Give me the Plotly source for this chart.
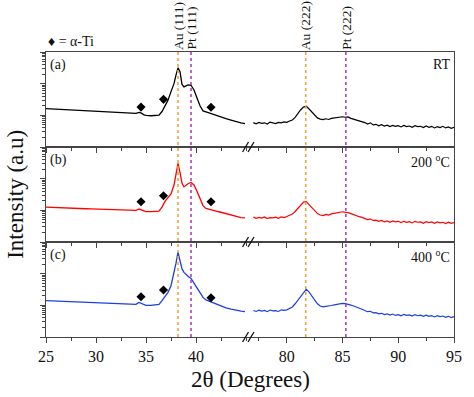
import plotly.graph_objects as go
from plotly.subplots import make_subplots

# ---------------- data ----------------
left_theta = [25.0, 25.5, 26.0, 26.5, 27.0, 27.5, 28.0, 28.5, 29.0, 29.5, 30.0, 30.5, 31.0, 31.5,
              32.0, 32.5, 33.0, 33.5, 34.0, 34.3, 34.5, 34.8, 35.0, 35.5, 36.0, 36.3, 36.6, 36.9,
              37.2, 37.5, 37.8, 38.0, 38.2, 38.4, 38.6, 38.8, 39.0, 39.2, 39.5, 39.8, 40.1, 40.4,
              40.7, 41.0, 41.3, 41.6, 42.0, 42.5, 43.0, 43.5, 44.0, 44.5, 44.9]

left_rt = [16.2, 15.9, 15.6, 15.4, 15.0, 14.8, 14.4, 14.2, 13.9, 13.6, 13.2, 13.0, 12.9, 12.6,
           12.5, 12.3, 12.1, 11.8, 11.6, 12.4, 11.9, 10.4, 9.9, 9.7, 9.8, 10.1, 13.2, 20.9,
           30.2, 56.0, 100.0, 186.0, 316.0, 240.0, 95.0, 79.0, 85.0, 91.0, 89.0, 63.0, 35.5, 20.0,
           13.8, 12.6, 12.0, 11.2, 10.0, 8.9, 7.9, 7.1, 6.3, 5.8, 5.5]

left_200 = [12.6, 12.5, 12.4, 12.2, 12.0, 11.9, 11.6, 11.4, 11.2, 11.1, 11.0, 10.9, 10.7, 10.7,
            10.5, 10.4, 10.2, 10.1, 10.0, 11.0, 10.5, 9.3, 9.1, 9.1, 9.3, 9.5, 12.6, 19.1,
            25.1, 33.1, 63.0, 151.0, 302.0, 158.0, 71.0, 55.0, 61.7, 69.2, 75.9, 63.0, 39.8, 24.0,
            14.1, 11.5, 10.7, 10.2, 9.5, 8.7, 7.9, 7.2, 6.3, 5.9, 5.75]

left_400 = [14.1, 13.9, 13.7, 13.4, 13.2, 13.0, 12.7, 12.5, 12.3, 12.1, 12.0, 11.9, 11.7, 11.6,
            11.5, 11.2, 11.0, 10.8, 10.7, 12.3, 11.7, 10.5, 10.0, 10.0, 10.2, 10.7, 14.1, 18.6,
            25.7, 41.7, 100.0, 214.0, 479.0, 282.0, 141.0, 110.0, 93.0, 83.0, 71.0, 52.5, 35.5, 25.1,
            17.8, 14.8, 13.5, 12.6, 11.0, 9.5, 8.3, 7.6, 6.9, 6.6, 6.3]

right_theta = [77.0, 77.25, 77.5, 77.75, 78.0, 78.25, 78.5, 78.75, 79.0, 79.25, 79.5, 79.75,
               80.0, 80.25, 80.5, 80.75, 81.0, 81.25, 81.5, 81.75, 82.0, 82.25, 82.5, 82.75,
               83.0, 83.25, 83.5, 83.75, 84.0, 84.25, 84.5, 84.75, 85.0, 85.25, 85.5, 85.75,
               86.0, 86.25, 86.5, 86.75, 87.0, 87.25, 87.5, 87.75, 88.0, 88.25, 88.5, 88.75,
               89.0, 89.25, 89.5, 89.75, 90.0, 90.25, 90.5, 90.75, 91.0, 91.25, 91.5, 91.75,
               92.0, 92.25, 92.5, 92.75, 93.0, 93.25, 93.5, 93.75, 94.0, 94.25, 94.5, 94.75, 95.0]

right_rt = [5.9, 5.4, 6.0, 5.6, 5.8, 5.3, 6.1, 5.7, 5.5, 6.0, 5.8, 6.2,
            6.0, 6.6, 7.1, 8.6, 11.5, 15.0, 18.2, 19.5, 15.8, 12.4, 10.0, 8.3,
            7.6, 7.3, 7.8, 7.4, 8.0, 8.3, 8.6, 8.9, 9.0, 8.7, 8.9, 8.0,
            7.6, 7.0, 6.6, 6.2, 5.9, 5.3, 5.8, 5.0, 5.2, 4.7, 5.1, 4.6,
            4.9, 4.4, 4.8, 4.5, 4.7, 4.3, 4.8, 4.4, 4.6, 4.2, 4.7, 4.4,
            4.5, 4.1, 4.6, 4.2, 4.5, 4.0, 4.4, 4.1, 4.5, 4.0, 4.3, 3.9, 4.2]

right_200 = [6.1, 5.6, 6.0, 5.7, 6.2, 5.5, 5.9, 5.8, 6.1, 5.6, 6.2, 5.9,
             6.4, 6.8, 7.6, 9.2, 11.8, 15.1, 18.2, 18.8, 15.1, 11.7, 9.5, 7.9,
             7.1, 6.8, 7.4, 7.1, 7.7, 7.9, 8.4, 8.6, 9.0, 8.6, 8.5, 7.9,
             7.2, 6.9, 6.3, 6.0, 5.4, 5.1, 5.3, 4.8, 4.9, 4.5, 4.8, 4.3,
             4.6, 4.2, 4.6, 4.3, 4.5, 4.1, 4.5, 4.2, 4.4, 4.0, 4.5, 4.2,
             4.3, 3.9, 4.4, 4.1, 4.3, 3.9, 4.3, 4.0, 4.2, 3.8, 4.2, 3.9, 4.1]

right_400 = [6.9, 6.4, 7.0, 6.6, 6.9, 6.3, 7.1, 6.7, 6.8, 6.4, 7.2, 6.9,
             7.2, 7.9, 8.9, 11.2, 14.8, 20.0, 26.3, 32.4, 26.3, 20.0, 14.1, 11.2,
             9.5, 8.9, 9.3, 9.4, 9.9, 10.3, 10.8, 11.0, 11.6, 11.3, 10.9, 10.1,
             9.5, 8.9, 7.9, 7.5, 6.9, 6.3, 6.5, 5.8, 5.9, 5.4, 5.6, 5.1,
             5.4, 4.9, 5.3, 4.8, 5.1, 4.7, 5.2, 4.8, 5.0, 4.6, 5.1, 4.7,
             4.9, 4.5, 4.9, 4.5, 4.7, 4.3, 4.7, 4.4, 4.6, 4.2, 4.5, 4.1, 4.4]

ti_theta = [34.5, 36.75, 41.5]
ti_rt = [18.2, 32.0, 18.0]
ti_200 = [18.7, 29.0, 18.7]
ti_400 = [18.7, 30.4, 17.4]

peaks_left = [("Au (111)", 38.2), ("Pt (111)", 39.5)]
peaks_right = [("Au (222)", 81.7), ("Pt (222)", 85.3)]
panel_tags = ["(a)", "(b)", "(c)"]
panel_temps = ["RT", "200 <sup>o</sup>C", "400 <sup>o</sup>C"]
colors = ["#000000", "#ff0000", "#1c3fe0"]

x_left_ticks = [25, 30, 35, 40]
x_right_ticks = [80, 85, 90, 95]

left_sets = [left_rt, left_200, left_400]
right_sets = [right_rt, right_200, right_400]
ti_sets = [ti_rt, ti_200, ti_400]

# ---------------- figure ----------------
SERIF = "Liberation Serif"
AXC = "#444444"

fig = make_subplots(rows=3, cols=2, horizontal_spacing=0, vertical_spacing=0)

for i in range(3):
    r = i + 1
    fig.add_trace(go.Scatter(x=left_theta, y=left_sets[i], mode="lines",
                             line=dict(color=colors[i], width=1.3), showlegend=False), row=r, col=1)
    fig.add_trace(go.Scatter(x=right_theta, y=right_sets[i], mode="lines",
                             line=dict(color=colors[i], width=1.2), showlegend=False), row=r, col=2)
    fig.add_trace(go.Scatter(x=ti_theta, y=ti_sets[i], mode="markers",
                             marker=dict(symbol="diamond", size=7, color="black"),
                             showlegend=False), row=r, col=1)

minor_log = [2, 3, 4, 5, 6, 7, 8, 9, 20, 30, 40, 50, 60, 70, 80, 90,
             200, 300, 400, 500, 600, 700, 800, 900]

for i in range(3):
    r = i + 1
    fig.update_yaxes(type="log", range=[0, 3], showline=True, linecolor=AXC, linewidth=1.3,
                     ticks="outside", tickvals=[1, 10, 100, 1000], ticklen=5, tickcolor=AXC,
                     showticklabels=False, showgrid=False, zeroline=False,
                     minor=dict(tickvals=minor_log, ticks="outside", ticklen=3, tickcolor=AXC,
                                showgrid=False),
                     row=r, col=1)
    fig.update_yaxes(type="log", range=[0, 3], showline=True, linecolor=AXC, linewidth=1.3,
                     side="right", ticks="", showticklabels=False, showgrid=False,
                     zeroline=False, row=r, col=2)
    fig.update_xaxes(range=[25, 45.4], showline=True, mirror=True, linecolor=AXC, linewidth=1.3,
                     ticks="outside", tickvals=x_left_ticks, ticklen=5, tickcolor=AXC,
                     showticklabels=(r == 3), showgrid=False, zeroline=False,
                     tickfont=dict(family=SERIF, size=16, color="#111"),
                     minor=dict(dtick=2.5, tick0=25, ticks="outside", ticklen=3, tickcolor=AXC,
                                showgrid=False),
                     row=r, col=1)
    fig.update_xaxes(range=[76.7, 95], showline=True, mirror=True, linecolor=AXC, linewidth=1.3,
                     ticks="outside", tickvals=x_right_ticks, ticklen=5, tickcolor=AXC,
                     showticklabels=(r == 3), showgrid=False, zeroline=False,
                     tickfont=dict(family=SERIF, size=16, color="#111"),
                     minor=dict(dtick=2.5, tick0=80, ticks="outside", ticklen=3, tickcolor=AXC,
                                showgrid=False),
                     row=r, col=2)

# reference lines and labels
shapes = []
annotations = []
for (lab, pos), col in zip(peaks_left, ["#f0a030", "#b030b0"]):
    shapes.append(dict(type="line", xref="x", yref="paper", x0=pos, x1=pos, y0=0, y1=1,
                       line=dict(color=col, width=1.5, dash="dot")))
    annotations.append(dict(text=lab, xref="x", yref="paper", x=pos, y=1.0, textangle=-90,
                            xanchor="center", yanchor="bottom", showarrow=False,
                            font=dict(family=SERIF, size=13.5, color="#111")))
for (lab, pos), col in zip(peaks_right, ["#f0a030", "#b030b0"]):
    shapes.append(dict(type="line", xref="x2", yref="paper", x0=pos, x1=pos, y0=0, y1=1,
                       line=dict(color=col, width=1.5, dash="dot")))
    annotations.append(dict(text=lab, xref="x2", yref="paper", x=pos, y=1.0, textangle=-90,
                            xanchor="center", yanchor="bottom", showarrow=False,
                            font=dict(family=SERIF, size=13.5, color="#111")))

# axis-break marks
W, H, L, B = 412.0, 285.0, 46.0, 337.0
for k in range(3):
    ybase = k / 3.0
    for cx in (247.5, 253.0):
        shapes.append(dict(type="line", xref="paper", yref="paper",
                           x0=(cx - 3 - L) / W, x1=(cx + 3 - L) / W,
                           y0=ybase - 5 / H, y1=ybase + 5 / H,
                           line=dict(color="#111", width=1.3)))

tops = [55, 150, 245]
for i in range(3):
    annotations.append(dict(text=panel_tags[i], xref="paper", yref="paper", x=0.004,
                            y=(B - tops[i]) / H, xanchor="left", yanchor="top", showarrow=False,
                            font=dict(family=SERIF, size=14, color="#111")))
    annotations.append(dict(text=panel_temps[i], xref="paper", yref="paper", x=0.994,
                            y=(B - tops[i]) / H, xanchor="right", yanchor="top", showarrow=False,
                            font=dict(family=SERIF, size=14, color="#111")))

annotations.append(dict(text="\u2666 = \u03b1-Ti", xref="paper", yref="paper", x=0.0,
                        y=(B - 41) / H, xanchor="left", yanchor="middle", showarrow=False,
                        font=dict(family=SERIF, size=14, color="#111")))
annotations.append(dict(text="2\u03b8 (Degrees)", xref="paper", yref="paper", x=0.5,
                        y=(B - 379) / H, xanchor="center", yanchor="middle", showarrow=False,
                        font=dict(family=SERIF, size=23, color="#111")))
annotations.append(dict(text="Intensity (a.u)", xref="paper", yref="paper", x=(15 - L) / W,
                        y=0.5, xanchor="center", yanchor="middle", textangle=-90,
                        showarrow=False, font=dict(family=SERIF, size=23, color="#111")))

fig.update_layout(width=474, height=397, margin=dict(l=46, r=16, t=52, b=60),
                  plot_bgcolor="white", paper_bgcolor="white",
                  shapes=shapes, annotations=annotations, showlegend=False)

fig.write_html("out.html", config={"displayModeBar": False},
               post_script="document.body.style.margin='0';document.body.style.overflow='hidden';")
